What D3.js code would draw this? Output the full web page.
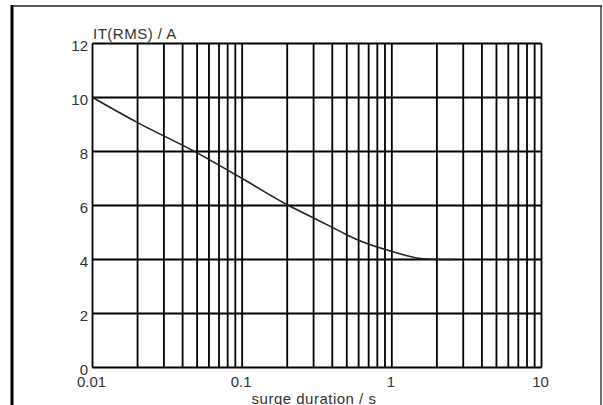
<!DOCTYPE html>
<html><head><meta charset="utf-8">
<script src="https://cdn.jsdelivr.net/npm/d3@7"></script>
<style>html,body{margin:0;padding:0;background:#fff;}svg{display:block;}</style>
</head><body>
<script>
const durations = [0.01, 0.02, 0.05, 0.1, 0.2, 0.3, 0.5, 0.6, 1, 1.6, 2.2, 2.6];
const currents  = [10, 9.07, 7.95, 7.0, 6.03, 5.54, 4.92, 4.71, 4.30, 4.03, 4.0, 4.0];
const xTickLabels = ["0.01", "0.1", "1", "10"];
const yTicks = [0, 2, 4, 6, 8, 10, 12];
const yTitle = "IT(RMS) / A";
const xTitle = "surge duration / s";

const W = 603, H = 405;
const FONT = "Liberation Sans, Arial, sans-serif";
const svg = d3.select("body").append("svg").attr("width", W).attr("height", H);

// outer frame
svg.append("line").attr("x1", 12).attr("x2", 12).attr("y1", 5).attr("y2", H).attr("stroke", "#000").attr("stroke-width", 3);
svg.append("line").attr("x1", 12).attr("x2", 602).attr("y1", 6).attr("y2", 6).attr("stroke", "#222").attr("stroke-width", 1.6);
svg.append("line").attr("x1", 601).attr("x2", 601).attr("y1", 6).attr("y2", H).attr("stroke", "#333").attr("stroke-width", 1.4);

const x = d3.scaleLog().domain([0.01, 10]).range([92.5, 541.5]);
const y = d3.scaleLinear().domain([0, 12]).range([367.5, 43.5]);

// vertical grid: 1..9 per decade
const vTicks = [];
[0.01, 0.1, 1].forEach(d => { for (let k = 1; k <= 9; k++) vTicks.push(+(d * k).toPrecision(3)); });
vTicks.push(10);

const grid = svg.append("g").attr("stroke", "#000").attr("stroke-width", 1.8);
grid.selectAll("line.v").data(vTicks).join("line").attr("class", "v")
  .attr("x1", d => x(d)).attr("x2", d => x(d)).attr("y1", y(12)).attr("y2", y(0));
grid.selectAll("line.h").data(yTicks).join("line").attr("class", "h")
  .attr("x1", x(0.01)).attr("x2", x(10)).attr("y1", d => y(d)).attr("y2", d => y(d));

// y labels
svg.append("g").selectAll("text").data(yTicks).join("text")
  .attr("x", 88).attr("y", d => y(d) + 2).attr("dy", "0.36em").attr("text-anchor", "end")
  .attr("font-family", FONT).attr("font-size", 15).attr("fill", "#333")
  .text(d => d);

// x labels
const xVals = xTickLabels.map(Number);
svg.append("g").selectAll("text").data(xVals).join("text")
  .attr("x", d => x(d) - 1).attr("y", 387).attr("text-anchor", "middle")
  .attr("font-family", FONT).attr("font-size", 15).attr("fill", "#333")
  .text((d, i) => xTickLabels[i]);

svg.append("text").attr("x", 93).attr("y", 39)
  .attr("font-family", FONT).attr("font-size", 15).attr("letter-spacing", 0.5).attr("fill", "#333")
  .text(yTitle);
svg.append("text").attr("x", 314).attr("y", 404).attr("text-anchor", "middle")
  .attr("font-family", FONT).attr("font-size", 15).attr("letter-spacing", 0.5).attr("fill", "#333")
  .text(xTitle);

// curve
const data = durations.map((d, i) => [d, currents[i]]);
svg.append("path").datum(data)
  .attr("fill", "none").attr("stroke", "#222").attr("stroke-width", 1.6)
  .attr("d", d3.line().x(d => x(d[0])).y(d => y(d[1])).curve(d3.curveMonotoneX));
</script>
</body></html>
